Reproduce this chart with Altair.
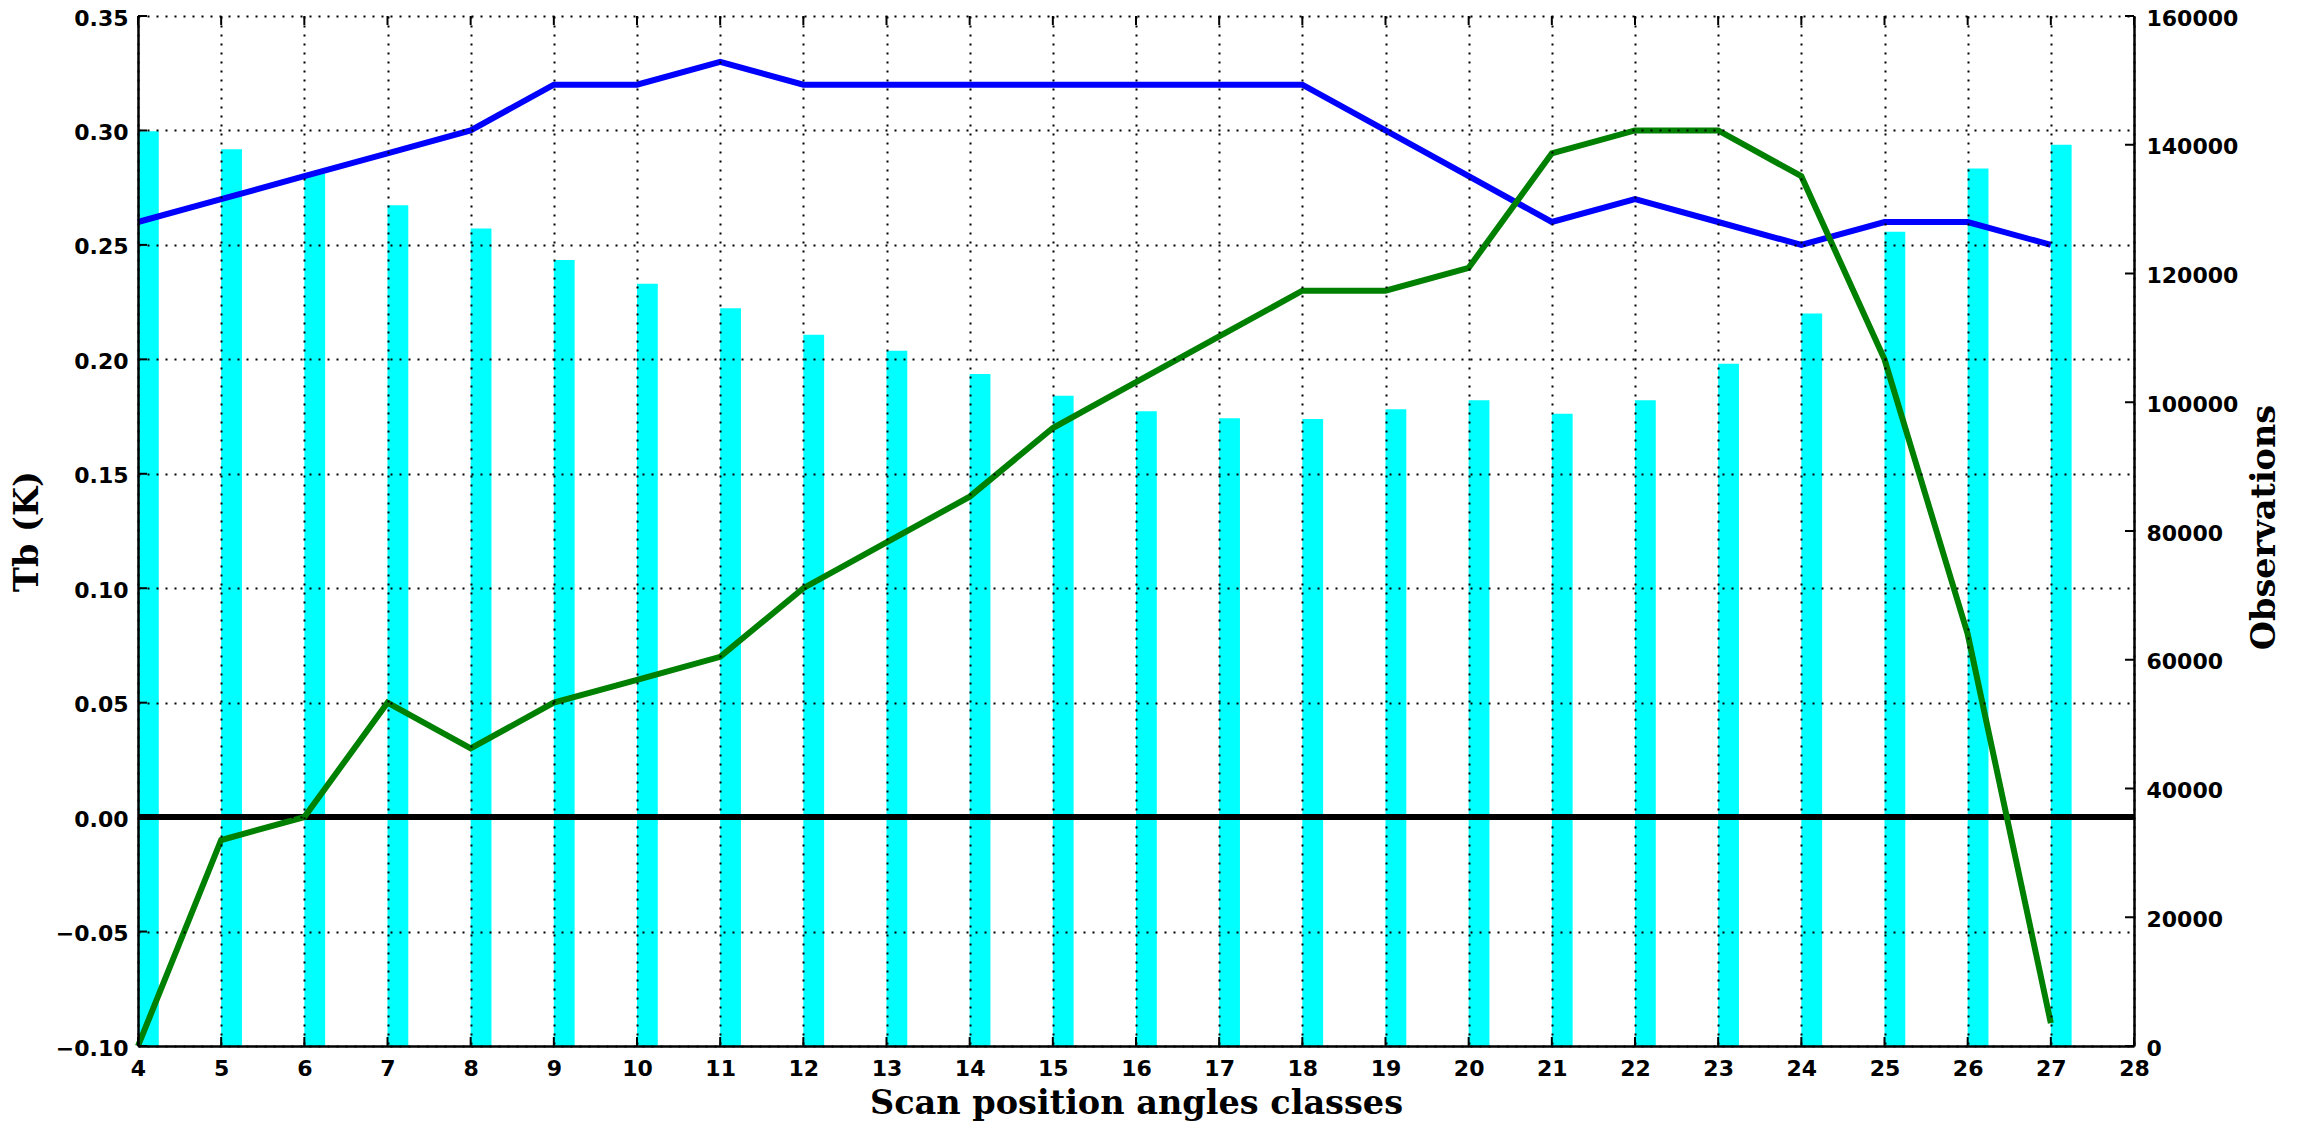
import altair as alt
import pandas as pd

# ---- data ----
classes = list(range(4, 28))
tb_blue = [0.26, 0.27, 0.28, 0.29, 0.30, 0.32, 0.32, 0.33, 0.32, 0.32, 0.32, 0.32,
           0.32, 0.32, 0.32, 0.30, 0.28, 0.26, 0.27, 0.26, 0.25, 0.26, 0.26, 0.25]
tb_green = [-0.10, -0.01, 0.00, 0.05, 0.03, 0.05, 0.06, 0.07, 0.10, 0.12, 0.14, 0.17,
            0.19, 0.21, 0.23, 0.23, 0.24, 0.29, 0.30, 0.30, 0.28, 0.20, 0.08, -0.09]
observations = [142100, 139300, 135500, 130600, 127000, 122100, 118400, 114600,
                110500, 108000, 104400, 101000, 98600, 97500, 97400, 98900,
                100300, 98200, 100300, 106000, 113800, 126500, 136300, 140000]

x_ticks = list(range(4, 29))
left_ticks = [-0.10, -0.05, 0.00, 0.05, 0.10, 0.15, 0.20, 0.25, 0.30, 0.35]
right_ticks = [0, 20000, 40000, 60000, 80000, 100000, 120000, 140000, 160000]

x_title = "Scan position angles classes"
left_title = "Tb (K)"
right_title = "Observations"

W, H = 1996, 1030
TICK = 9

df = pd.DataFrame({"cls": classes, "blue": tb_blue, "green": tb_green, "obs": observations})
df_xt = pd.DataFrame({"v": x_ticks})
df_lt = pd.DataFrame({"v": left_ticks})
df_rt = pd.DataFrame({"v": right_ticks})

xs = alt.Scale(domain=[4, 28], nice=False, zero=False)
yl = alt.Scale(domain=[-0.10, 0.35], nice=False, zero=False)
yr = alt.Scale(domain=[0, 160000], nice=False, zero=False)

grid_style = dict(grid=True, gridColor="black", gridDash=[2, 7], gridWidth=2, gridOpacity=1)
common = dict(tickSize=0, labelFlush=False, labelOverlap=False, labelBound=False, zindex=1)

x_axis = alt.Axis(values=x_ticks, format="d", labelPadding=12,
                  title=x_title, titleX=W / 2, titleY=67, titleAlign="center",
                  titleBaseline="alphabetic", **common, **grid_style)
left_axis = alt.Axis(values=left_ticks, format=".2f", labelPadding=10, labelOffset=2,
                     title=left_title, titleX=-111, titleY=H / 2, titleAngle=270,
                     titleAlign="center", titleBaseline="middle", **common, **grid_style)
right_axis = alt.Axis(values=right_ticks, format="d", orient="right",
                      labelPadding=12, labelOffset=2, grid=False, title=right_title,
                      titleX=130, titleY=H / 2 - 4, titleAngle=270, titleAlign="center",
                      titleBaseline="middle", **common)

X = lambda f: alt.X(f, scale=xs, axis=x_axis, title=x_title)
YL = lambda f: alt.Y(f, scale=yl, axis=left_axis, title=left_title)
YR = lambda f: alt.Y(f, scale=yr, axis=right_axis, title=right_title)

bars = alt.Chart(df).transform_calculate(cls2="datum.cls + 0.25").mark_bar(
    color="#00FFFF", opacity=1
).encode(
    x=X("cls:Q"),
    x2="cls2:Q",
    y=YR("obs:Q"),
    y2=alt.datum(0),
)

right_tick_rules = alt.Chart(df_rt).mark_rule(color="black", strokeWidth=2).encode(
    y=YR("v:Q"),
    x=alt.value(W - TICK),
    x2=alt.value(W),
)

right_layer = alt.layer(bars, right_tick_rules)

blue_line = alt.Chart(df).mark_line(color="#0000FF", strokeWidth=6).encode(
    x=X("cls:Q"),
    y=YL("blue:Q"),
)
green_line = alt.Chart(df).mark_line(color="#008000", strokeWidth=6).encode(
    x=X("cls:Q"),
    y=YL("green:Q"),
)
zero_line = alt.Chart(df_lt).mark_rule(color="black", strokeWidth=6).encode(
    y=alt.datum(0, scale=yl, axis=left_axis, title=left_title),
)
left_tick_rules = alt.Chart(df_lt).mark_rule(color="black", strokeWidth=2).encode(
    y=YL("v:Q"),
    x=alt.value(0),
    x2=alt.value(TICK),
)
bottom_tick_rules = alt.Chart(df_xt).mark_rule(color="black", strokeWidth=2).encode(
    x=X("v:Q"),
    y=alt.value(H),
    y2=alt.value(H - TICK),
)
top_tick_rules = alt.Chart(df_xt).mark_rule(color="black", strokeWidth=2).encode(
    x=X("v:Q"),
    y=alt.value(0),
    y2=alt.value(TICK),
)

left_layer = alt.layer(zero_line, blue_line, green_line, left_tick_rules,
                       bottom_tick_rules, top_tick_rules)

chart = alt.layer(right_layer, left_layer).resolve_scale(y="independent").properties(
    width=W,
    height=H,
    autosize=alt.AutoSizeParams(type="none"),
    padding={"left": 130, "top": 8, "right": 167, "bottom": 76},
    background="white",
).configure_view(strokeWidth=0).configure_axis(
    labelFont="DejaVu Sans",
    labelFontWeight="bold",
    labelFontSize=22,
    labelColor="black",
    titleFont="DejaVu Serif",
    titleFontWeight="bold",
    titleFontSize=33.5,
    titleColor="black",
    domainColor="black",
    domainWidth=2.5,
)

chart.save("out.html", embed_options={"renderer": "svg", "actions": False})
